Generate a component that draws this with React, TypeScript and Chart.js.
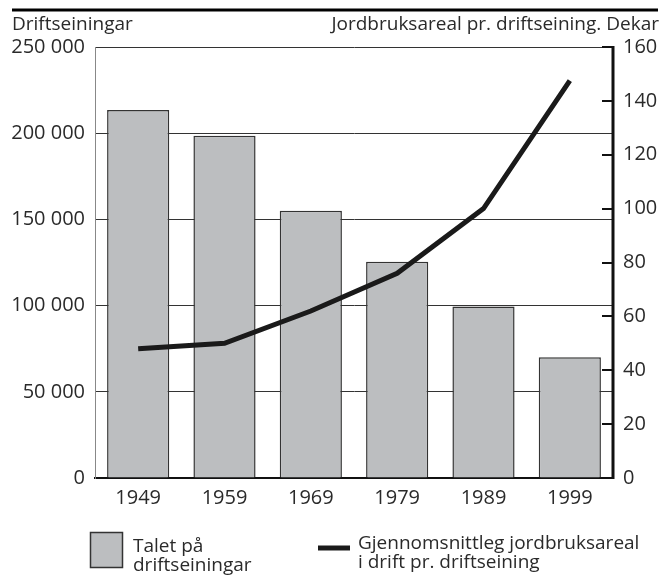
import React, { useEffect, useRef } from "react";
import { Chart, registerables } from "chart.js";

Chart.register(...registerables);

const years = ["1949", "1959", "1969", "1979", "1989", "1999"];
const holdings = [213500, 198500, 155000, 125500, 99500, 70000];
const areaPerHolding = [48, 50, 62, 76, 100, 147.5];
const leftTitle = "Driftseiningar";
const rightTitle = "Jordbruksareal pr. driftseining. Dekar";
const barLegend = ["Talet på", "driftseiningar"];
const lineLegend = ["Gjennomsnittleg jordbruksareal", "i drift pr. driftseining"];

const FONT = "'Open Sans', 'DejaVu Sans', sans-serif";
const TEXT = "#2a2a2a";
const BAR_FILL = "#bcbec0";

const fmt = (v: number) => {
  const s = String(Math.round(v));
  return s.replace(/\B(?=(\d{3})+(?!\d))/g, " ");
};

const decor = {
  id: "decor",
  afterDraw(chart: any) {
    const ctx = chart.ctx;
    const y1 = chart.scales.y1;
    const area = chart.chartArea;
    ctx.save();
    // top rule
    ctx.strokeStyle = "#000";
    ctx.lineWidth = 3;
    ctx.beginPath();
    ctx.moveTo(12, 10);
    ctx.lineTo(658, 10);
    ctx.stroke();
    // axis titles
    ctx.fillStyle = TEXT;
    ctx.font = `19px ${FONT}`;
    ctx.textBaseline = "alphabetic";
    ctx.textAlign = "left";
    ctx.fillText(leftTitle, 12, 30);
    ctx.textAlign = "right";
    ctx.fillText(rightTitle, 659, 30);
    // right axis line and inward ticks
    const rx = area.right;
    ctx.strokeStyle = "#111";
    ctx.lineWidth = 3;
    ctx.beginPath();
    ctx.moveTo(rx, area.top - 1);
    ctx.lineTo(rx, area.bottom + 1);
    ctx.stroke();
    ctx.lineWidth = 2;
    for (let v = 0; v <= 160; v += 20) {
      const py = Math.round(y1.getPixelForValue(v));
      ctx.beginPath();
      ctx.moveTo(rx - 11, py);
      ctx.lineTo(rx, py);
      ctx.stroke();
    }
    // legend
    ctx.fillStyle = BAR_FILL;
    ctx.fillRect(90.5, 532.5, 32, 35);
    ctx.strokeStyle = "#333";
    ctx.lineWidth = 1.5;
    ctx.strokeRect(90.5, 532.5, 32, 35);
    ctx.fillStyle = TEXT;
    ctx.textAlign = "left";
    ctx.font = `19px ${FONT}`;
    ctx.fillText(barLegend[0], 133, 552);
    ctx.fillText(barLegend[1], 133, 571);
    ctx.strokeStyle = "#1a1a1a";
    ctx.lineWidth = 5;
    ctx.beginPath();
    ctx.moveTo(318, 548);
    ctx.lineTo(350, 548);
    ctx.stroke();
    ctx.fillText(lineLegend[0], 358, 549);
    ctx.fillText(lineLegend[1], 358, 568);
    ctx.restore();
  },
};

export default function App() {
  const ref = useRef<HTMLCanvasElement | null>(null);
  useEffect(() => {
    document.body.style.margin = "0";
    const canvas = ref.current!;
    const chart = new Chart(canvas, {
      type: "bar",
      data: {
        labels: years,
        datasets: [
          {
            type: "line",
            label: "Gjennomsnittleg jordbruksareal i drift pr. driftseining",
            data: areaPerHolding,
            yAxisID: "y1",
            borderColor: "#1a1a1a",
            borderWidth: 5,
            pointRadius: 0,
            tension: 0,
            order: 0,
          } as any,
          {
            type: "bar",
            label: "Talet på driftseiningar",
            data: holdings,
            yAxisID: "y",
            backgroundColor: BAR_FILL,
            borderColor: "#333",
            borderWidth: 1.5,
            barPercentage: 0.72,
            categoryPercentage: 1,
            order: 1,
          } as any,
        ],
      },
      options: {
        responsive: false,
        animation: false,
        devicePixelRatio: 1,
        layout: { padding: { top: 47, left: 0, right: 0, bottom: 0 } },
        plugins: { legend: { display: false }, tooltip: { enabled: false } },
        scales: {
          x: {
            offset: true,
            grid: { display: false, drawTicks: false },
            border: { display: true, color: "#111", width: 2 },
            ticks: { color: TEXT, font: { family: FONT, size: 20 }, padding: 8 },
            afterFit: (s: any) => {
              s.height = 97;
            },
          },
          y: {
            position: "left",
            min: 0,
            max: 250000,
            grid: { color: "#333", lineWidth: 1, drawTicks: false },
            border: { display: true, color: "#888", width: 1 },
            ticks: {
              stepSize: 50000,
              color: TEXT,
              font: { family: FONT, size: 20 },
              padding: 10,
              callback: (v: any) => fmt(Number(v)),
            },
            afterFit: (s: any) => {
              s.width = 95;
            },
          },
          y1: {
            position: "right",
            min: 0,
            max: 160,
            grid: { drawOnChartArea: false, drawTicks: false },
            border: { display: false },
            ticks: {
              stepSize: 20,
              color: TEXT,
              font: { family: FONT, size: 20 },
              padding: 10,
            },
            afterFit: (s: any) => {
              s.width = 56;
            },
          },
        },
      } as any,
      plugins: [decor],
    });
    return () => chart.destroy();
  }, []);
  return <canvas ref={ref} width={669} height={575} style={{ display: "block" }} />;
}
